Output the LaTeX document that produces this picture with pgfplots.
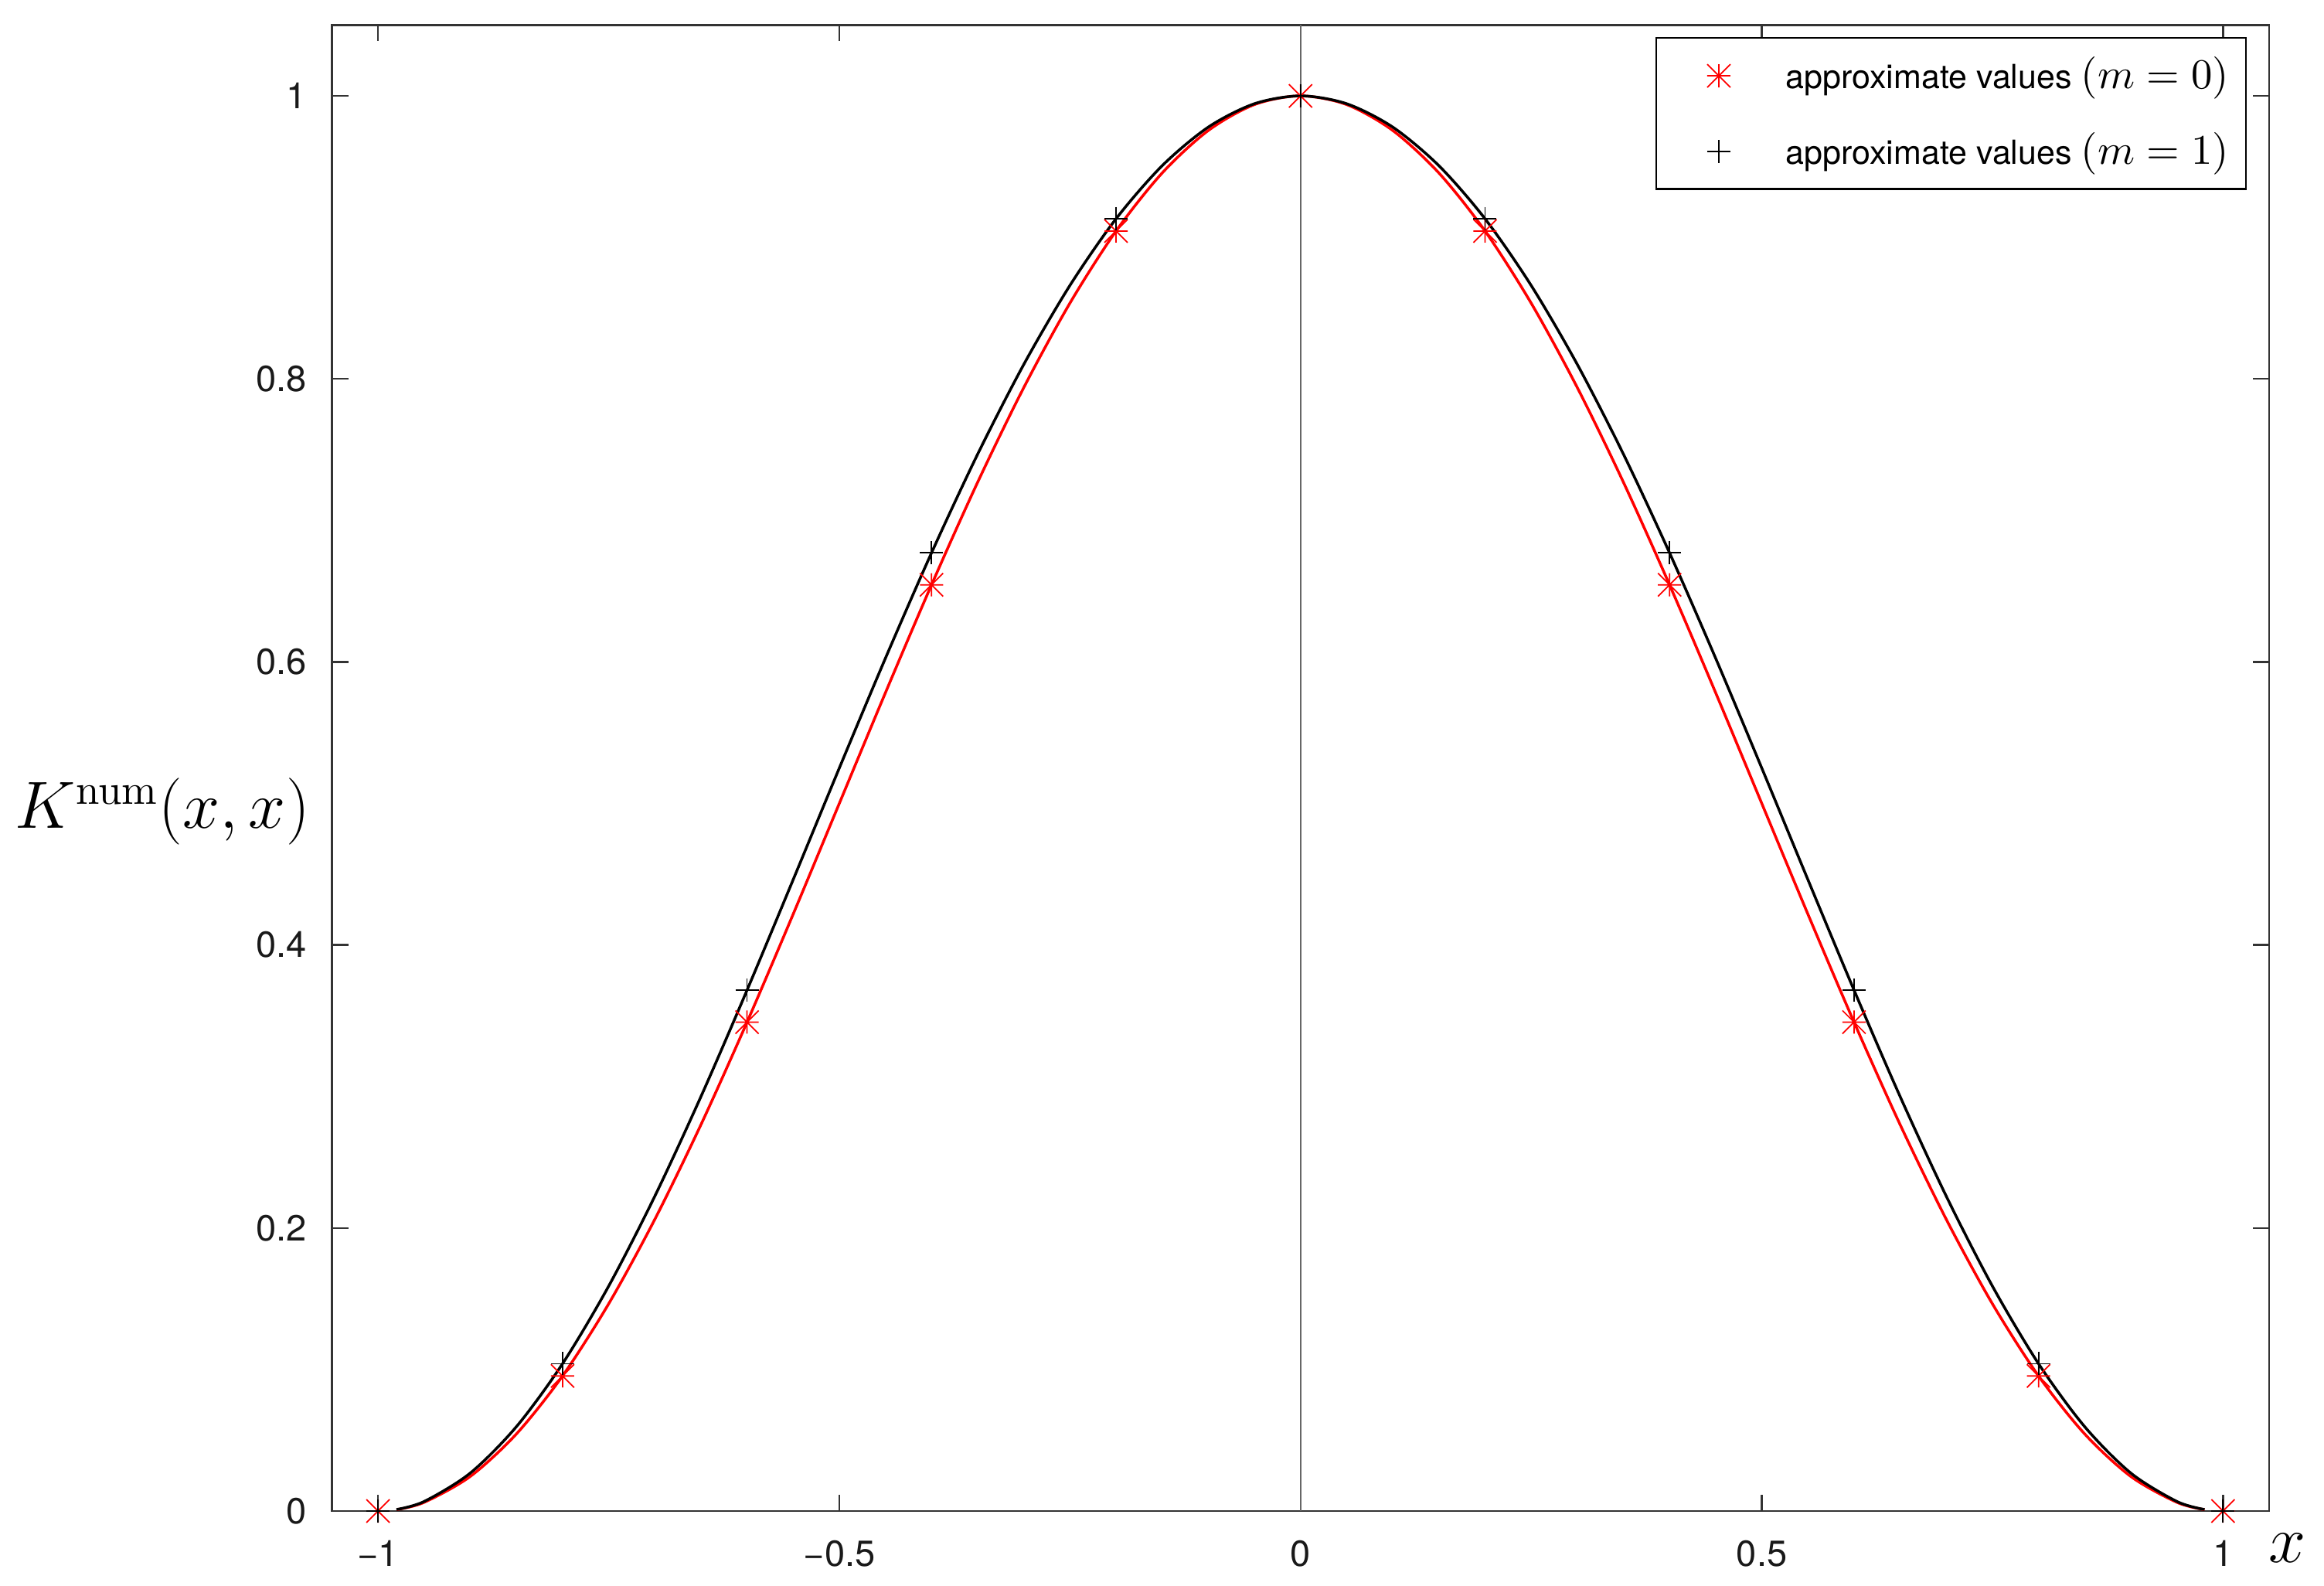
\documentclass[border=0pt]{standalone}
\usepackage{pgfplots}
\pgfplotsset{compat=1.18}
\usepackage[no-math]{fontspec}
\setmainfont{TeX Gyre Heros}

% gnuplot-like star: plus and cross together
\pgfdeclareplotmark{gpstar}{%
  \pgfpathmoveto{\pgfqpoint{-\pgfplotmarksize}{0pt}}\pgfpathlineto{\pgfqpoint{\pgfplotmarksize}{0pt}}%
  \pgfpathmoveto{\pgfqpoint{0pt}{-\pgfplotmarksize}}\pgfpathlineto{\pgfqpoint{0pt}{\pgfplotmarksize}}%
  \pgfpathmoveto{\pgfqpoint{-\pgfplotmarksize}{-\pgfplotmarksize}}\pgfpathlineto{\pgfqpoint{\pgfplotmarksize}{\pgfplotmarksize}}%
  \pgfpathmoveto{\pgfqpoint{-\pgfplotmarksize}{\pgfplotmarksize}}\pgfpathlineto{\pgfqpoint{\pgfplotmarksize}{-\pgfplotmarksize}}%
  \pgfusepathqstroke}

\begin{document}
\begin{tikzpicture}
\begin{axis}[
  scale only axis,
  width=501.3pt, height=384.5pt,
  xmin=-1.05, xmax=1.05,
  ymin=0, ymax=1.05,
  xtick={-1,-0.5,0,0.5,1},
  xticklabels={−1,−0.5,0,0.5,1},
  ytick={0,0.2,0.4,0.6,0.8,1},
  yticklabels={0,0.2,0.4,0.6,0.8,1},
  tick align=inside,
  major tick length=4.2pt,
  tick style={black!80, line width=0.5pt},
  axis line style={black!80, line width=0.5pt},
  ticklabel style={font=\fontsize{9.4}{11}\selectfont, text=black!90},
  xticklabel style={yshift=-4pt},
  yticklabel style={xshift=-3pt},
  extra x ticks={0},
  extra x tick labels={},
  extra x tick style={grid=major, major grid style={black!60, line width=0.5pt}, major tick length=0pt},
  xlabel={$x$},
  ylabel={$K^{\mathrm{num}}(x,x)$},
  label style={font=\fontsize{15.9}{18}\selectfont},
  xlabel style={at={(axis description cs:1,0)}, anchor=center, xshift=4.8pt, yshift=-9.6pt},
  ylabel style={rotate=-90, at={(axis description cs:0,0.5)}, anchor=east, xshift=-2.2pt, yshift=-11.3pt},
  legend style={at={(rel axis cs:1,1)}, anchor=north east, xshift=-5.8pt, yshift=-3.1pt,
    draw=black, line width=0.5pt, inner xsep=0pt, inner ysep=0pt, row sep=0pt,
    font=\fontsize{8.6}{10}\selectfont, nodes={inner sep=0pt}, cells={anchor=west}},
  legend image code/.code={\path (0pt,-9.6pt) (33.2pt,9.6pt); \draw[#1] plot coordinates {(16pt,0pt)};},
]
\addplot[red, only marks, mark=gpstar, mark size=3pt, line width=0.35pt] coordinates {
  (-1,0) (-0.8,0.0955) (-0.6,0.3455) (-0.4,0.6545) (-0.2,0.9045) (0,1)
  (0.2,0.9045) (0.4,0.6545) (0.6,0.3455) (0.8,0.0955) (1,0)
};
\addlegendentry{approximate values {\fontsize{11}{12}\selectfont$(m=0)$}\kern4.4pt}

\addplot[black, only marks, mark=+, mark size=3pt, line width=0.35pt] coordinates {
  (-1,0) (-0.8,0.1041) (-0.6,0.3681) (-0.4,0.6771) (-0.2,0.9132) (0,1)
  (0.2,0.9132) (0.4,0.6771) (0.6,0.3681) (0.8,0.1041) (1,0)
};
\addlegendentry{approximate values {\fontsize{11}{12}\selectfont$(m=1)$}\kern4.4pt}

% m = 0 curve
\addplot[red, line width=0.7pt, smooth, forget plot] coordinates {
  (-0.98,0.00099) (-0.95,0.00616) (-0.9,0.02447) (-0.85,0.05450) (-0.8,0.09549)
  (-0.75,0.14645) (-0.7,0.20611) (-0.65,0.27300) (-0.6,0.34549) (-0.55,0.42178)
  (-0.5,0.5) (-0.45,0.57822) (-0.4,0.65451) (-0.35,0.72700) (-0.3,0.79389)
  (-0.25,0.85355) (-0.2,0.90451) (-0.15,0.94550) (-0.1,0.97553) (-0.05,0.99384)
  (0,1)
  (0.05,0.99384) (0.1,0.97553) (0.15,0.94550) (0.2,0.90451) (0.25,0.85355)
  (0.3,0.79389) (0.35,0.72700) (0.4,0.65451) (0.45,0.57822) (0.5,0.5)
  (0.55,0.42178) (0.6,0.34549) (0.65,0.27300) (0.7,0.20611) (0.75,0.14645)
  (0.8,0.09549) (0.85,0.05450) (0.9,0.02447) (0.95,0.00616) (0.98,0.00099)
};
% m = 1 curve
\addplot[black, line width=0.7pt, smooth, forget plot] coordinates {
  (-0.98,0.00109) (-0.95,0.00677) (-0.9,0.02686) (-0.85,0.05965) (-0.8,0.10413)
  (-0.75,0.15895) (-0.7,0.22247) (-0.65,0.29285) (-0.6,0.36810) (-0.55,0.44617)
  (-0.5,0.525) (-0.45,0.60261) (-0.4,0.67712) (-0.35,0.74685) (-0.3,0.81025)
  (-0.25,0.86605) (-0.2,0.91315) (-0.15,0.95065) (-0.1,0.97792) (-0.05,0.99445)
  (0,1)
  (0.05,0.99445) (0.1,0.97792) (0.15,0.95065) (0.2,0.91315) (0.25,0.86605)
  (0.3,0.81025) (0.35,0.74685) (0.4,0.67712) (0.45,0.60261) (0.5,0.525)
  (0.55,0.44617) (0.6,0.36810) (0.65,0.29285) (0.7,0.22247) (0.75,0.15895)
  (0.8,0.10413) (0.85,0.05965) (0.9,0.02686) (0.95,0.00677) (0.98,0.00109)
};
\end{axis}
\path (current axis.south west) ++(-85.9pt,-19.2pt);
\path (current axis.north east) ++(14.2pt,6.5pt);
\end{tikzpicture}
\end{document}
